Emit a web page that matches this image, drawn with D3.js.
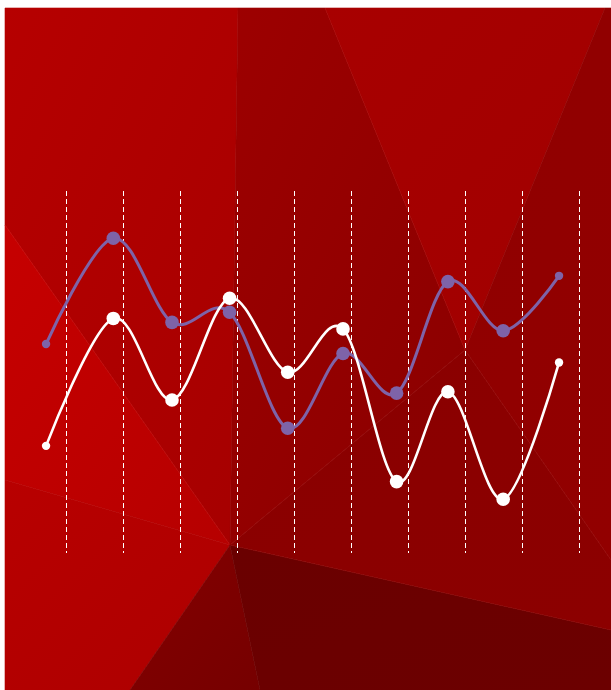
<!DOCTYPE html>
<html>
<head>
<meta charset="utf-8">
<script src="https://cdn.jsdelivr.net/npm/d3@7"></script>
<style>
  html, body { margin: 0; padding: 0; background: #fff; }
  svg { display: block; }
</style>
</head>
<body>
<div class="container"></div>
<script>
// data
var xValues = [0.65, 1.83, 2.86, 3.87, 4.89, 5.86, 6.80, 7.70, 8.67, 9.65];
var whiteValues = [29.4, 64.7, 42.1, 70.3, 49.8, 61.8, 19.5, 44.4, 14.6, 52.5];
var purpleValues = [57.6, 86.9, 63.6, 66.4, 34.3, 55.0, 44.0, 74.9, 61.3, 76.5];
var gridTicks = [1, 2, 3, 4, 5, 6, 7, 8, 9, 10];

const WIDTH = 611;
const HEIGHT = 690;

// plot area (where the dashed guides run)
const PLOT_TOP = 191;
const PLOT_BOTTOM = 553;

var xScale = d3.scaleLinear()
  .domain([1, 10])
  .range([66, 579]);

var yScale = d3.scaleLinear()
  .domain([0, 100])
  .range([552, 191]);

// background facets (decoration only)
var facets = [
  {pts: [[5,8],[238,8],[230,545],[5,225]], c: ["#b60000", "#a60000"]},
  {pts: [[5,225],[230,545],[5,480]], c: ["#c60000", "#b60000"]},
  {pts: [[5,480],[230,545],[130,690],[5,690]], c: ["#b80000", "#ad0000"]},
  {pts: [[230,545],[130,690],[260,690]], c: ["#840000", "#760000"]},
  {pts: [[230,545],[260,690],[611,690],[611,630]], c: ["#6a0000", "#6c0000"]},
  {pts: [[230,545],[611,630],[611,560],[465,350]], c: ["#8a0000", "#8c0000"]},
  {pts: [[238,8],[325,8],[465,350],[230,545]], c: ["#9d0000", "#8a0000"]},
  {pts: [[325,8],[605,8],[465,350]], c: ["#a80000", "#a00000"]},
  {pts: [[605,8],[611,8],[611,560],[465,350]], c: ["#900000", "#920000"]}
];

var translate = function(x, y){
  return "translate(" + x + "," + y + ")";
};

var generateChart = function(){
  var svg = d3.select('.container').append('svg')
    .attr('width', WIDTH)
    .attr('height', HEIGHT);

  var defs = svg.append('defs');
  facets.forEach(function(f, i){
    var g = defs.append('linearGradient')
      .attr('id', 'facet' + i)
      .attr('x1', '0%').attr('y1', '0%')
      .attr('x2', '100%').attr('y2', '100%');
    g.append('stop').attr('offset', '0%').attr('stop-color', f.c[0]);
    g.append('stop').attr('offset', '100%').attr('stop-color', f.c[1]);
  });

  svg.append('g').selectAll('polygon').data(facets)
    .enter().append('polygon')
    .attr('points', function(f){ return f.pts.map(function(p){ return p.join(','); }).join(' '); })
    .attr('fill', function(f, i){ return 'url(#facet' + i + ')'; })
    .attr('stroke', function(f, i){ return 'url(#facet' + i + ')'; })
    .attr('stroke-width', 0.6);

  // dashed vertical guides
  svg.append('g').selectAll('line').data(gridTicks)
    .enter().append('line')
    .attr('x1', function(d){ return xScale(d) + 0.5; })
    .attr('x2', function(d){ return xScale(d) + 0.5; })
    .attr('y1', PLOT_TOP)
    .attr('y2', PLOT_BOTTOM)
    .attr('stroke', '#ffffff')
    .attr('stroke-width', 1)
    .attr('stroke-dasharray', '5,3');

  var series = [
    {values: purpleValues, color: '#7e63a8', width: 3},
    {values: whiteValues, color: '#ffffff', width: 2.6}
  ];

  var line = d3.line()
    .x(function(d){ return xScale(d[0]); })
    .y(function(d){ return yScale(d[1]); })
    .curve(d3.curveCardinal);

  series.forEach(function(s){
    var pts = xValues.map(function(x, i){ return [x, s.values[i]]; });
    var g = svg.append('g');
    g.append('path')
      .datum(pts)
      .attr('d', line)
      .attr('fill', 'none')
      .attr('stroke', s.color)
      .attr('stroke-width', s.width)
      .attr('stroke-linecap', 'round');
    g.selectAll('circle').data(pts)
      .enter().append('circle')
      .attr('cx', function(d){ return xScale(d[0]); })
      .attr('cy', function(d){ return yScale(d[1]); })
      .attr('r', function(d, i){ return (i === 0 || i === pts.length - 1) ? 4.2 : 6.8; })
      .attr('fill', s.color);
  });
};

window.onload = generateChart;
</script>
</body>
</html>
